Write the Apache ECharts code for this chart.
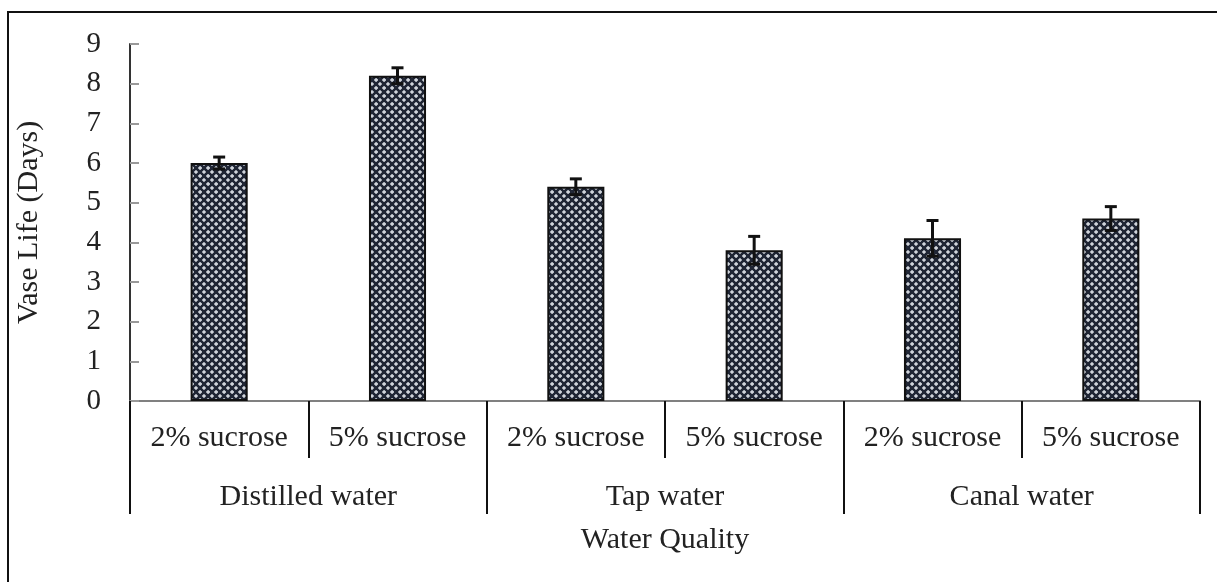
<!DOCTYPE html>
<html>
<head>
<meta charset="utf-8">
<script src="https://cdn.jsdelivr.net/npm/echarts@6/dist/echarts.min.js"></script>
<style>
  html, body { margin: 0; padding: 0; background: #fff; }
  #chart { width: 1217px; height: 582px; }
</style>
</head>
<body>
<div id="chart"></div>
<script>
// data
const treatments = ["2% sucrose", "5% sucrose", "2% sucrose", "5% sucrose", "2% sucrose", "5% sucrose"];
const waterGroups = ["Distilled water", "Tap water", "Canal water"];
const vaseLife = [6.0, 8.2, 5.4, 3.8, 4.1, 4.6];
const vaseLifeErr = [0.15, 0.2, 0.2, 0.35, 0.45, 0.3];
const yTicks = [0, 1, 2, 3, 4, 5, 6, 7, 8, 9];

const FONT = "Liberation Serif";

// small tile for the bar fill (dark lattice of rings)
function makePattern() {
  const c = document.createElement("canvas");
  c.width = 8;
  c.height = 8;
  const ctx = c.getContext("2d");
  ctx.fillStyle = "#cfd3da";
  ctx.fillRect(0, 0, 8, 8);
  ctx.strokeStyle = "#1f2534";
  ctx.lineWidth = 1.8;
  [[0, 0], [8, 0], [0, 8], [8, 8], [4, 4]].forEach(function (p) {
    ctx.beginPath();
    ctx.arc(p[0], p[1], 3, 0, Math.PI * 2);
    ctx.stroke();
  });
  return c;
}

const chart = echarts.init(document.getElementById("chart"), null, { renderer: "canvas" });

const option = {
  animation: false,
  backgroundColor: "#fff",
  graphic: [
    {
      type: "rect",
      shape: { x: 8, y: 12, width: 1240, height: 620 },
      style: { fill: "none", stroke: "#111", lineWidth: 2 },
      silent: true
    }
  ],
  grid: { left: 130, right: 17, top: 44, bottom: 181 },
  xAxis: [
    {
      type: "category",
      data: treatments,
      position: "bottom",
      axisLine: { lineStyle: { color: "#808080", width: 2 } },
      axisTick: { show: true, interval: 0, length: 57, lineStyle: { color: "#111", width: 2 } },
      axisLabel: { interval: 0, margin: 22, fontFamily: FONT, fontSize: 30, color: "#222" }
    },
    {
      type: "category",
      data: waterGroups,
      position: "bottom",
      axisLine: { show: false },
      axisTick: { show: true, interval: 0, length: 113, lineStyle: { color: "#111", width: 2 } },
      axisLabel: { interval: 0, margin: 81, fontFamily: FONT, fontSize: 30, color: "#222" },
      name: "Water Quality",
      nameLocation: "middle",
      nameGap: 124,
      nameTextStyle: { fontFamily: FONT, fontSize: 30, color: "#222" }
    }
  ],
  yAxis: {
    type: "value",
    min: yTicks[0],
    max: yTicks[yTicks.length - 1],
    interval: 1,
    splitLine: { show: false },
    axisLine: { show: true, lineStyle: { color: "#333", width: 2 } },
    axisTick: { show: true, inside: true, length: 9, lineStyle: { color: "#999", width: 2 } },
    axisLabel: { margin: 29, fontFamily: FONT, fontSize: 29, color: "#222" },
    name: "Vase Life (Days)",
    nameLocation: "middle",
    nameGap: 86,
    nameTextStyle: { fontFamily: FONT, fontSize: 30, color: "#222" }
  },
  series: [
    {
      type: "bar",
      data: vaseLife,
      barWidth: "32%",
      itemStyle: {
        color: { image: makePattern(), repeat: "repeat" },
        borderColor: "#111",
        borderWidth: 2
      }
    },
    {
      type: "custom",
      data: vaseLife.map(function (v, i) { return [i, v - vaseLifeErr[i], v + vaseLifeErr[i]]; }),
      z: 10,
      renderItem: function (params, api) {
        const lo = api.coord([api.value(0), api.value(1)]);
        const hi = api.coord([api.value(0), api.value(2)]);
        const x = hi[0];
        const half = 6;
        const style = { stroke: "#111", lineWidth: 3 };
        return {
          type: "group",
          children: [
            { type: "line", shape: { x1: x, y1: hi[1], x2: x, y2: lo[1] }, style: style },
            { type: "line", shape: { x1: x - half, y1: hi[1], x2: x + half, y2: hi[1] }, style: style },
            { type: "line", shape: { x1: x - half, y1: lo[1], x2: x + half, y2: lo[1] }, style: style }
          ]
        };
      }
    }
  ]
};

chart.setOption(option);
</script>
</body>
</html>
